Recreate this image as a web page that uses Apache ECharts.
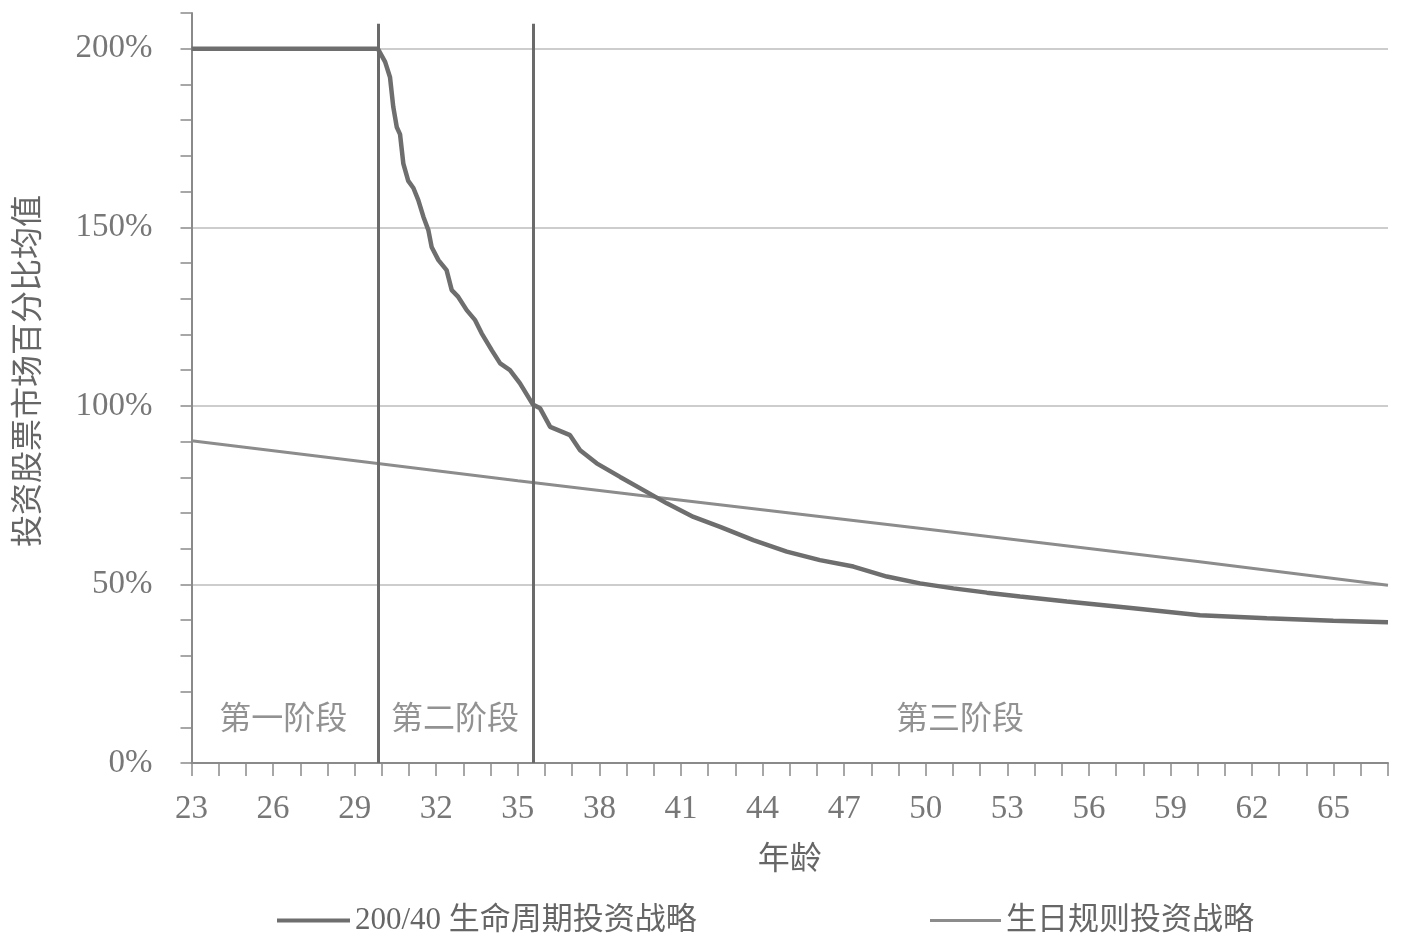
<!DOCTYPE html>
<html>
<head>
<meta charset="utf-8">
<script src="https://cdn.jsdelivr.net/npm/echarts@6/dist/echarts.min.js"></script>
<style>
html,body{margin:0;padding:0;background:#fff;}
#chart{width:1402px;height:949px;}
</style>
</head>
<body>
<div id="chart"></div>
<script>
// ---- data ----
const lifecycleAges = [23, 29.85, 30.12, 30.30, 30.42, 30.55, 30.67, 30.79, 30.97, 31.16, 31.34, 31.53, 31.71, 31.83, 32.08, 32.38, 32.57, 32.81, 33.12, 33.43, 33.67, 34.04, 34.35, 34.71, 35.08, 35.55, 35.82, 36.19, 36.92, 37.29, 37.9, 38.76, 39.62, 40.48, 41.46, 42.44, 43.66, 44.89, 46.11, 47.34, 48.57, 49.79, 51.02, 52.25, 53.47, 55.19, 57.64, 60.09, 62.54, 64.99, 67];
const lifecycleValues = [200, 200, 196.3, 192, 183.7, 178, 176, 167.8, 163, 161, 157.6, 152.9, 149.2, 144.5, 140.8, 138, 132.4, 130.5, 126.8, 124, 120.3, 115.6, 111.9, 110, 106.3, 100.4, 99.3, 94.1, 91.8, 87.6, 83.9, 80.1, 76.4, 72.7, 68.9, 66.1, 62.4, 59.2, 56.8, 55, 52.2, 50.3, 48.9, 47.7, 46.6, 45.2, 43.3, 41.4, 40.5, 39.8, 39.4];
const birthdayAges = [23, 30, 35, 40, 45, 50, 55, 60, 67];
const birthdayValues = [90.2, 83.7, 79.0, 74.5, 70.0, 65.5, 61.0, 56.4, 49.8];
const phaseBoundaries = [29.85, 35.55];
const phaseLabels = ['第一阶段', '第二阶段', '第三阶段'];
const phaseLabelAges = [26.37, 32.69, 51.26];
const phaseLabelLevel = 12;
const yTickLabels = [0, 50, 100, 150, 200];
const seriesNames = ['200/40 生命周期投资战略', '生日规则投资战略'];
const xName = '年龄';
const yName = '投资股票市场百分比均值';

// ---- build ----
const FONT = "'Liberation Serif', 'Noto Sans CJK SC', serif";
const lifeData = lifecycleAges.map((a, i) => [a, lifecycleValues[i]]);
const birthData = birthdayAges.map((a, i) => [a, birthdayValues[i]]);
const phaseData = phaseLabels.map((n, i) => ({name: n, value: [phaseLabelAges[i], phaseLabelLevel]}));

const splitColors = [];
for (let v = 0; v <= 210; v += 10) {
  splitColors.push(yTickLabels.indexOf(v) >= 0 && v !== 0 ? '#bdbdbd' : 'rgba(0,0,0,0)');
}

const chart = echarts.init(document.getElementById('chart'));
chart.setOption({
  animation: false,
  backgroundColor: '#fff',
  grid: {left: 191.5, right: 14, top: 13, bottom: 186, containLabel: false},
  xAxis: {
    type: 'value', min: 23, max: 67, interval: 1,
    name: xName, nameLocation: 'middle', nameGap: 82,
    nameTextStyle: {fontFamily: FONT, fontSize: 32, color: '#666'},
    axisLine: {show: true, lineStyle: {color: '#8a8a8a', width: 2}},
    axisTick: {show: true, length: 13, lineStyle: {color: '#8a8a8a', width: 1.5}},
    axisLabel: {
      margin: 30, fontFamily: FONT, fontSize: 33, color: '#777',
      formatter: v => ((v - 23) % 3 === 0 ? String(v) : '')
    },
    splitLine: {show: false}
  },
  yAxis: {
    type: 'value', min: 0, max: 210, interval: 10,
    axisLine: {show: true, lineStyle: {color: '#8a8a8a', width: 2}},
    axisTick: {show: true, length: 11, lineStyle: {color: '#8a8a8a', width: 1.5}},
    axisLabel: {
      margin: 39, fontFamily: FONT, fontSize: 33, color: '#777',
      formatter: v => (yTickLabels.indexOf(v) >= 0 ? v + '%' : '')
    },
    splitLine: {show: true, lineStyle: {color: splitColors, width: 1.5}}
  },
  legend: [
    {data: [{name: seriesNames[0], icon: 'rect'}], left: 272, top: 900, itemWidth: 73, itemHeight: 4, itemGap: 5,
     textStyle: {fontFamily: FONT, fontSize: 31, color: '#666'}},
    {data: [{name: seriesNames[1], icon: 'rect'}], left: 925, top: 900, itemWidth: 71, itemHeight: 3, itemGap: 5,
     textStyle: {fontFamily: FONT, fontSize: 31, color: '#666'}}
  ],
  graphic: [{
    type: 'text', x: 30, y: 371, rotation: Math.PI / 2,
    style: {text: yName, fontFamily: FONT, fontSize: 32, fill: '#666', textAlign: 'center', textVerticalAlign: 'middle'}
  }],
  series: [
    {
      name: seriesNames[0], type: 'line', data: lifeData, showSymbol: false, symbol: 'none',
      lineStyle: {color: '#6e6e6e', width: 4.5}, itemStyle: {color: '#6e6e6e'}, z: 4,
      markLine: {
        silent: true, symbol: 'none', label: {show: false},
        lineStyle: {color: '#6a6a6a', width: 3, type: 'solid'},
        data: phaseBoundaries.map(a => [{coord: [a, 0]}, {coord: [a, 207]}])
      }
    },
    {
      name: seriesNames[1], type: 'line', data: birthData, showSymbol: false, symbol: 'none',
      lineStyle: {color: '#8c8c8c', width: 3}, itemStyle: {color: '#8c8c8c'}, z: 3
    },
    {
      name: 'phases', type: 'scatter', data: phaseData, symbolSize: 0, silent: true,
      label: {show: true, position: 'inside', formatter: p => p.name,
              fontFamily: FONT, fontSize: 32, color: '#777'}
    }
  ]
});
</script>
</body>
</html>
